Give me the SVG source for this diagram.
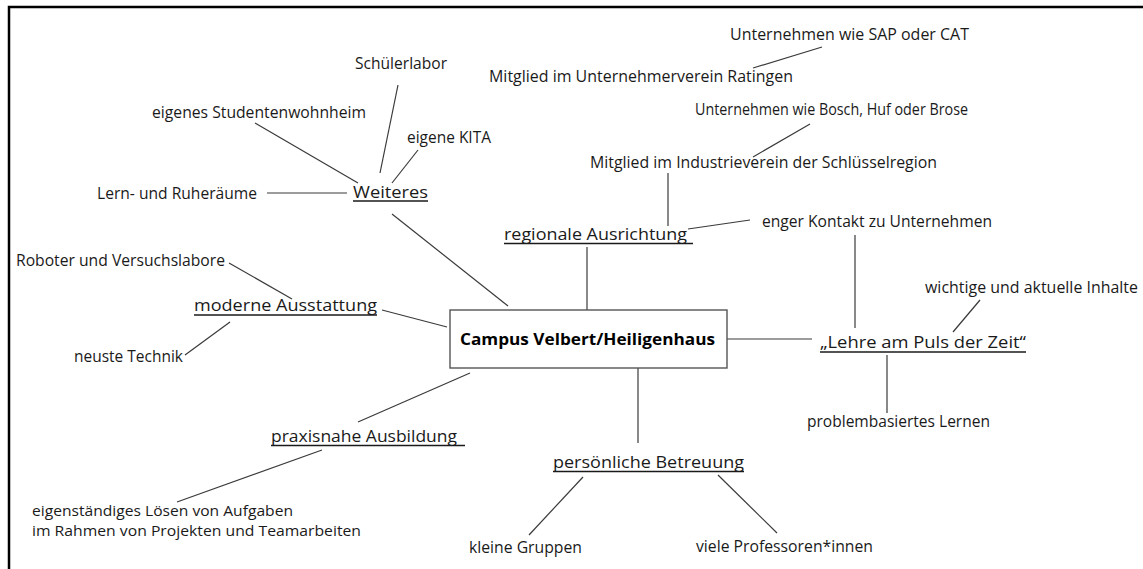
<svg xmlns="http://www.w3.org/2000/svg" width="1143" height="569" viewBox="0 0 1143 569">
<style>
text{font-family:"Open Sans","Liberation Sans",Arial,sans-serif;font-size:15.5px;fill:#1a1a1a}
.h{font-size:16.5px}
.b{font-weight:bold;font-size:16.5px;fill:#000}
.s{font-size:14.2px}
.c line{stroke:#3a3a3a;stroke-width:1.2}
.u{stroke:#1a1a1a;stroke-width:1.6}
</style>
<rect width="1143" height="569" fill="#fff"/>
<path d="M9 569V7H1143" fill="none" stroke="#000" stroke-width="2.5"/>
<g class="c" id="connectors">
<line x1="753" y1="68" x2="822" y2="47"/>
<line x1="753" y1="157" x2="810" y2="124"/>
<line x1="668" y1="173" x2="668" y2="226"/>
<line x1="688" y1="229" x2="750" y2="220"/>
<line x1="855" y1="235" x2="855" y2="328"/>
<line x1="727" y1="339" x2="812" y2="339"/>
<line x1="980" y1="300" x2="953" y2="332"/>
<line x1="887" y1="355" x2="887" y2="413"/>
<line x1="587" y1="247" x2="587" y2="310"/>
<line x1="392" y1="214" x2="508" y2="306"/>
<line x1="382" y1="310" x2="447" y2="327"/>
<line x1="470" y1="373" x2="358" y2="422"/>
<line x1="638" y1="368" x2="638" y2="443"/>
<line x1="583" y1="477" x2="529" y2="535"/>
<line x1="718" y1="475" x2="777" y2="533"/>
<line x1="322" y1="450" x2="177" y2="502"/>
<line x1="229" y1="263" x2="292" y2="299"/>
<line x1="230" y1="322" x2="185" y2="355"/>
<line x1="255" y1="123" x2="358" y2="183"/>
<line x1="398" y1="85" x2="380" y2="173"/>
<line x1="418" y1="150" x2="392" y2="183"/>
<line x1="267" y1="193" x2="347" y2="193"/>
</g>
<g id="center"><rect x="450" y="310" width="277" height="58" fill="#fff" stroke="#555" stroke-width="1.4"/><text class="b" x="460" y="345" textLength="255" lengthAdjust="spacingAndGlyphs">Campus Velbert/Heiligenhaus</text></g>
<g id="regional"><text class="h" x="504" y="240" textLength="183" lengthAdjust="spacingAndGlyphs">regionale Ausrichtung</text><line class="u" x1="504" y1="243.5" x2="693" y2="243.5"/></g>
<g id="sap"><text x="730" y="40" textLength="239" lengthAdjust="spacingAndGlyphs">Unternehmen wie SAP oder CAT</text></g>
<g id="ratingen"><text x="489" y="82" textLength="304" lengthAdjust="spacingAndGlyphs">Mitglied im Unternehmerverein Ratingen</text></g>
<g id="bosch"><text x="695" y="115" textLength="273" lengthAdjust="spacingAndGlyphs">Unternehmen wie Bosch, Huf oder Brose</text></g>
<g id="industrie"><text x="590" y="168" textLength="347" lengthAdjust="spacingAndGlyphs">Mitglied im Industrieverein der Schlüsselregion</text></g>
<g id="kontakt"><text x="762" y="227" textLength="230" lengthAdjust="spacingAndGlyphs">enger Kontakt zu Unternehmen</text></g>
<g id="lehre"><text class="h" x="820" y="348" textLength="206" lengthAdjust="spacingAndGlyphs">„Lehre am Puls der Zeit“</text><line class="u" x1="820" y1="352" x2="1026" y2="352"/></g>
<g id="inhalte"><text x="925" y="293" textLength="213" lengthAdjust="spacingAndGlyphs">wichtige und aktuelle Inhalte</text></g>
<g id="problem"><text x="807" y="427" textLength="183" lengthAdjust="spacingAndGlyphs">problembasiertes Lernen</text></g>
<g id="betreuung"><text class="h" x="553" y="468" textLength="191" lengthAdjust="spacingAndGlyphs">persönliche Betreuung</text><line class="u" x1="553" y1="471.5" x2="744" y2="471.5"/></g>
<g id="gruppen"><text x="469" y="553" textLength="113" lengthAdjust="spacingAndGlyphs">kleine Gruppen</text></g>
<g id="professoren"><text x="696" y="552" textLength="177" lengthAdjust="spacingAndGlyphs">viele Professoren*innen</text></g>
<g id="praxis"><text class="h" x="271" y="442" textLength="186" lengthAdjust="spacingAndGlyphs">praxisnahe Ausbildung</text><line class="u" x1="271" y1="445.5" x2="465" y2="445.5"/></g>
<g id="loesen"><text class="s" x="32" y="516" textLength="261" lengthAdjust="spacingAndGlyphs">eigenständiges Lösen von Aufgaben</text><text class="s" x="32" y="536" textLength="329" lengthAdjust="spacingAndGlyphs">im Rahmen von Projekten und Teamarbeiten</text></g>
<g id="roboter"><text x="16" y="266" textLength="209" lengthAdjust="spacingAndGlyphs">Roboter und Versuchslabore</text></g>
<g id="moderne"><text class="h" x="194" y="311" textLength="183" lengthAdjust="spacingAndGlyphs">moderne Ausstattung</text><line class="u" x1="194" y1="315" x2="377" y2="315"/></g>
<g id="technik"><text x="74" y="362" textLength="109" lengthAdjust="spacingAndGlyphs">neuste Technik</text></g>
<g id="wohnheim"><text x="152" y="118" textLength="214" lengthAdjust="spacingAndGlyphs">eigenes Studentenwohnheim</text></g>
<g id="schuelerlabor"><text x="355" y="69" textLength="92" lengthAdjust="spacingAndGlyphs">Schülerlabor</text></g>
<g id="kita"><text x="407" y="143" textLength="84" lengthAdjust="spacingAndGlyphs">eigene KITA</text></g>
<g id="weiteres"><text class="h" x="353" y="198" textLength="75" lengthAdjust="spacingAndGlyphs">Weiteres</text><line class="u" x1="353" y1="201" x2="428" y2="201"/></g>
<g id="ruheraeume"><text x="97" y="199" textLength="160" lengthAdjust="spacingAndGlyphs">Lern- und Ruheräume</text></g>
</svg>
